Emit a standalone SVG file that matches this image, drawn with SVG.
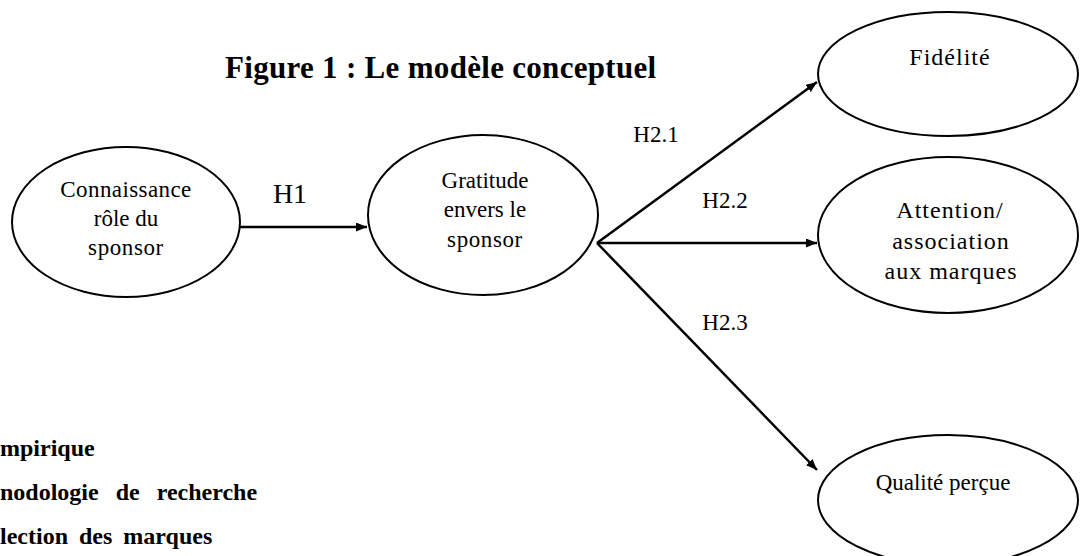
<svg xmlns="http://www.w3.org/2000/svg" width="1080" height="556" viewBox="0 0 1080 556">
<style>
.node ellipse{fill:#fff;stroke:#000;stroke-width:2}
.t{font-family:"Liberation Serif","Times New Roman",serif;font-size:23px;fill:#000;text-anchor:middle}
.r{font-size:24px;letter-spacing:1px}
.lbl{font-family:"Liberation Serif","Times New Roman",serif;font-size:23px;fill:#000;text-anchor:middle}
.h1{font-size:28px}
.b{font-family:"Liberation Serif","Times New Roman",serif;font-weight:bold;fill:#000}
.edge{stroke:#000;stroke-width:2.5;fill:none;marker-end:url(#ah)}
</style>
<defs>
<marker id="ah" viewBox="0 0 11 9" refX="11" refY="4.5" markerWidth="11" markerHeight="9" markerUnits="userSpaceOnUse" orient="auto">
<path d="M0,0 L11,4.5 L0,9 Z" fill="#000"/>
</marker>
</defs>
<rect width="1080" height="556" fill="#fff"/>
<text class="b" x="225" y="78" font-size="31" letter-spacing="0.3">Figure 1 : Le modèle conceptuel</text>
<g id="connectors">
<line class="edge" x1="240" y1="227" x2="367" y2="227"/>
<line class="edge" x1="597" y1="243" x2="817" y2="82"/>
<line class="edge" x1="597" y1="243" x2="817" y2="243"/>
<line class="edge" x1="597" y1="243" x2="817" y2="470"/>
<text class="lbl h1" x="290" y="203">H1</text>
<text class="lbl" x="656" y="142">H2.1</text>
<text class="lbl" x="725" y="208">H2.2</text>
<text class="lbl" x="725" y="330">H2.3</text>
</g>
<g id="n1" class="node">
<ellipse cx="126" cy="222" rx="114" ry="75"/>
<text class="t" x="126" y="197" letter-spacing="0.4">Connaissance</text>
<text class="t" x="126" y="226">rôle du</text>
<text class="t" x="126" y="255" letter-spacing="0.6">sponsor</text>
</g>
<g id="n2" class="node">
<ellipse cx="483" cy="215" rx="115" ry="80"/>
<text class="t" x="485" y="188">Gratitude</text>
<text class="t" x="485" y="217">envers le</text>
<text class="t" x="485" y="247" letter-spacing="0.6">sponsor</text>
</g>
<g id="n3" class="node">
<ellipse cx="948" cy="74" rx="130" ry="62"/>
<text class="t r" x="950" y="65">Fidélité</text>
</g>
<g id="n4" class="node">
<ellipse cx="948" cy="235" rx="130" ry="78"/>
<text class="t r" x="950" y="218">Attention/</text>
<text class="t r" x="951" y="249" letter-spacing="1.8">association</text>
<text class="t r" x="951" y="279">aux marques</text>
</g>
<g id="n5" class="node">
<ellipse cx="948" cy="500" rx="130" ry="65"/>
<text class="t" x="943" y="490">Qualité perçue</text>
</g>
<text class="b" x="0" y="456" font-size="24">mpirique</text>
<text class="b" x="0" y="500" font-size="24" word-spacing="11">nodologie de recherche</text>
<text class="b" x="0" y="544" font-size="24" word-spacing="5">lection des marques</text>
</svg>
